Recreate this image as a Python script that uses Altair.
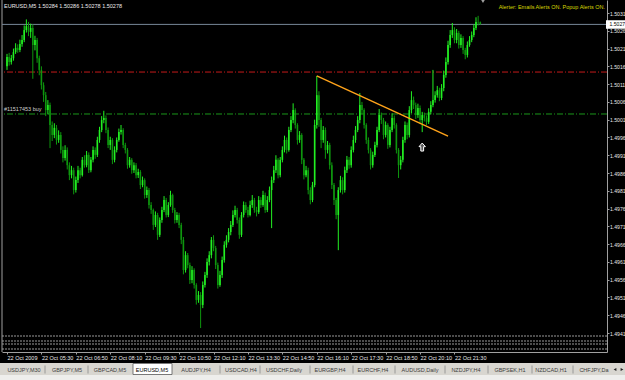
import json
import numpy as np
import pandas as pd
import altair as alt

# ---------------- data ----------------
symbol = "EURUSD,M5"
first_open = 1.50160
close = [
1.50186,1.50172,1.50183,1.50200,1.50212,1.50206,1.50223,1.50234,1.50262,1.50273,
1.50257,1.50268,1.50220,1.50234,1.50183,1.50150,1.50107,1.50079,1.50037,1.50051,
1.49995,1.49967,1.49987,1.49953,1.49967,1.49925,1.49902,1.49925,1.49882,1.49854,
1.49868,1.49812,1.49840,1.49868,1.49854,1.49897,1.49882,1.49911,1.49868,1.49897,
1.49925,1.49911,1.49953,1.49981,1.50009,1.50015,1.49981,1.49939,1.49953,1.49897,
1.49925,1.49953,1.49975,1.49981,1.49939,1.49925,1.49882,1.49897,1.49868,1.49882,
1.49854,1.49863,1.49826,1.49840,1.49798,1.49812,1.49770,1.49756,1.49714,1.49742,
1.49686,1.49728,1.49756,1.49784,1.49742,1.49770,1.49798,1.49756,1.49728,1.49742,
1.49714,1.49672,1.49587,1.49629,1.49601,1.49559,1.49587,1.49545,1.49503,1.49517,
1.49489,1.49545,1.49573,1.49610,1.49629,1.49672,1.49649,1.49601,1.49545,1.49573,
1.49615,1.49658,1.49672,1.49694,1.49714,1.49742,1.49756,1.49728,1.49686,1.49742,
1.49770,1.49756,1.49742,1.49770,1.49784,1.49756,1.49750,1.49784,1.49770,1.49798,
1.49756,1.49784,1.49812,1.49840,1.49868,1.49897,1.49854,1.49897,1.49925,1.49953,
1.49925,1.49981,1.50009,1.50037,1.49995,1.49953,1.49967,1.49897,1.49854,1.49868,
1.49812,1.49784,1.49826,1.49995,1.50079,1.50009,1.49953,1.49981,1.49925,1.49939,
1.49882,1.49826,1.49784,1.49742,1.49812,1.49840,1.49812,1.49868,1.49897,1.49882,
1.49925,1.49953,1.49981,1.50009,1.50051,1.50037,1.49995,1.49953,1.49925,1.49882,
1.49911,1.49939,1.49981,1.50023,1.50009,1.49967,1.49995,1.49939,1.49981,1.50015,
1.49995,1.49925,1.49882,1.49897,1.49953,1.49995,1.49967,1.50037,1.50065,1.50051,
1.50023,1.50043,1.50009,1.50023,1.50015,1.50004,1.50032,1.50051,1.50065,1.50079,
1.50093,1.50071,1.50099,1.50136,1.50172,1.50220,1.50248,1.50262,1.50234,1.50254,
1.50220,1.50240,1.50206,1.50192,1.50220,1.50234,1.50248,1.50268,1.50285,1.50284,
1.50278]
high = [
1.50195,1.50198,1.50192,1.50210,1.50225,1.50222,1.50235,1.50248,1.50275,1.50292,
1.50285,1.50280,1.50278,1.50246,1.50240,1.50190,1.50160,1.50115,1.50088,1.50065,
1.50058,1.50005,1.50000,1.49995,1.49980,1.49975,1.49935,1.49938,1.49932,1.49890,
1.49880,1.49875,1.49850,1.49880,1.49875,1.49905,1.49910,1.49922,1.49918,1.49905,
1.49935,1.49932,1.49962,1.49990,1.50020,1.50035,1.50022,1.49988,1.49962,1.49958,
1.49935,1.49960,1.49985,1.49995,1.49986,1.49945,1.49930,1.49905,1.49902,1.49890,
1.49888,1.49872,1.49868,1.49850,1.49845,1.49822,1.49818,1.49778,1.49760,1.49752,
1.49748,1.49735,1.49765,1.49795,1.49790,1.49778,1.49810,1.49802,1.49762,1.49750,
1.49748,1.49720,1.49680,1.49640,1.49635,1.49608,1.49598,1.49592,1.49550,1.49528,
1.49525,1.49555,1.49582,1.49620,1.49640,1.49680,1.49685,1.49655,1.49608,1.49585,
1.49625,1.49668,1.49685,1.49705,1.49725,1.49755,1.49768,1.49762,1.49735,1.49750,
1.49780,1.49778,1.49765,1.49782,1.49798,1.49790,1.49765,1.49795,1.49792,1.49810,
1.49805,1.49795,1.49822,1.49850,1.49880,1.49910,1.49902,1.49905,1.49935,1.49965,
1.49960,1.49990,1.50020,1.50056,1.50042,1.50000,1.49978,1.49972,1.49902,1.49880,
1.49875,1.49820,1.49835,1.50010,1.50133,1.50090,1.50015,1.49992,1.49988,1.49950,
1.49945,1.49890,1.49832,1.49790,1.49820,1.49852,1.49848,1.49878,1.49908,1.49905,
1.49935,1.49965,1.49992,1.50020,1.50085,1.50060,1.50042,1.50000,1.49960,1.49930,
1.49920,1.49948,1.49990,1.50040,1.50030,1.50015,1.50005,1.50000,1.49990,1.50028,
1.50022,1.50000,1.49930,1.49908,1.49962,1.50005,1.50002,1.50048,1.50090,1.50075,
1.50058,1.50055,1.50050,1.50032,1.50030,1.50022,1.50042,1.50062,1.50150,1.50090,
1.50105,1.50100,1.50110,1.50148,1.50185,1.50232,1.50262,1.50282,1.50270,1.50265,
1.50260,1.50250,1.50245,1.50212,1.50230,1.50245,1.50258,1.50278,1.50298,1.50302,
1.50286]
low = [
1.50150,1.50162,1.50165,1.50176,1.50195,1.50198,1.50200,1.50215,1.50228,1.50255,
1.50245,1.50240,1.50125,1.50205,1.50170,1.50135,1.50095,1.50060,1.50020,1.50025,
1.49930,1.49950,1.49958,1.49940,1.49945,1.49915,1.49890,1.49895,1.49870,1.49840,
1.49845,1.49800,1.49805,1.49832,1.49845,1.49850,1.49875,1.49876,1.49860,1.49862,
1.49890,1.49900,1.49905,1.49945,1.49975,1.50000,1.49972,1.49930,1.49925,1.49885,
1.49890,1.49918,1.49948,1.49968,1.49930,1.49915,1.49872,1.49875,1.49858,1.49860,
1.49845,1.49846,1.49815,1.49820,1.49788,1.49790,1.49760,1.49745,1.49700,1.49708,
1.49672,1.49680,1.49720,1.49750,1.49735,1.49736,1.49765,1.49748,1.49718,1.49720,
1.49705,1.49660,1.49575,1.49580,1.49592,1.49548,1.49550,1.49535,1.49490,1.49495,
1.49424,1.49480,1.49538,1.49565,1.49600,1.49620,1.49640,1.49590,1.49535,1.49540,
1.49565,1.49608,1.49650,1.49665,1.49685,1.49708,1.49735,1.49718,1.49675,1.49680,
1.49735,1.49748,1.49735,1.49738,1.49762,1.49748,1.49738,1.49745,1.49762,1.49765,
1.49748,1.49750,1.49778,1.49705,1.49832,1.49860,1.49845,1.49848,1.49890,1.49918,
1.49915,1.49920,1.49975,1.50000,1.49985,1.49940,1.49945,1.49885,1.49842,1.49848,
1.49800,1.49772,1.49778,1.49820,1.49985,1.49990,1.49930,1.49945,1.49900,1.49915,
1.49870,1.49815,1.49770,1.49730,1.49643,1.49805,1.49800,1.49805,1.49860,1.49872,
1.49875,1.49918,1.49945,1.49975,1.50000,1.50025,1.49985,1.49942,1.49915,1.49870,
1.49875,1.49905,1.49932,1.49975,1.49998,1.49955,1.49960,1.49928,1.49932,1.49975,
1.49985,1.49915,1.49846,1.49870,1.49890,1.49945,1.49955,1.49960,1.50028,1.50040,
1.50012,1.50015,1.49998,1.49975,1.50005,1.49995,1.49998,1.50025,1.50045,1.50058,
1.50072,1.50062,1.50065,1.50090,1.50128,1.50165,1.50212,1.50240,1.50225,1.50225,
1.50210,1.50212,1.50195,1.50180,1.50185,1.50215,1.50228,1.50242,1.50262,1.50275,
1.50278]

time_tick_bars = [0, 16, 32, 48, 64, 80, 96, 112, 128, 144, 160, 176, 192, 208]
time_labels = ["22 Oct 2009", "22 Oct 05:30", "22 Oct 06:50", "22 Oct 08:10",
               "22 Oct 09:30", "22 Oct 10:50", "22 Oct 12:10", "22 Oct 13:30",
               "22 Oct 14:50", "22 Oct 16:10", "22 Oct 17:30", "22 Oct 18:50",
               "22 Oct 20:10", "22 Oct 21:30"]
price_ticks = [1.4941, 1.4946, 1.4951, 1.4956, 1.4961, 1.4966, 1.4971, 1.4976,
               1.4981, 1.4986, 1.4991, 1.4996, 1.5001, 1.5006, 1.5011, 1.5016,
               1.5021, 1.5026, 1.5031]

bid_price = 1.50278
bid_label = "1.5027"
red_level = 1.50144
order_level = 1.50026
order_label = "#11517453 buy"
trend_bars = [144, 205]
trend_prices = [1.50133, 1.49964]
arrow_bar = 193
arrow_price = 1.49933
alert_text = "Alerter:  Emails Alerts ON.  Popup Alerts ON."

tabs = ["USDJPY,M30", "GBPJPY,M5", "GBPCAD,M5", "EURUSD,M5", "AUDJPY,H4",
        "USDCAD,H4", "USDCHF,Daily", "EURGBP,H4", "EURCHF,H4", "AUDUSD,Daily",
        "NZDJPY,H4", "GBPSEK,H1", "NZDCAD,H1", "CHFJPY,Da"]
active_tab = "EURUSD,M5"

# ---------------- layout / style ----------------
W, H = 605, 352
BAR_PX = 2.1875
FONT = "Liberation Sans"
FS = 5.5
AXFS = 5.1
UP_COL, DOWN_COL = "#22f022", "#0e960e"

opens = [first_open] + close[:-1]
df = pd.DataFrame({"i": list(range(len(close))), "open": opens, "close": close,
                   "high": high, "low": low})
df["high"] = df[["high", "open", "close"]].max(axis=1)
df["low"] = df[["low", "open", "close"]].min(axis=1)
df["dir"] = np.where(df["close"] >= df["open"], "up", "down")

xscale = alt.Scale(domain=[0, W / BAR_PX], nice=False, zero=False)
yscale = alt.Scale(domain=[1.493566, 1.503466], nice=False, zero=False)

xaxis = alt.Axis(values=time_tick_bars,
                 labelExpr=f"{json.dumps(time_labels)}[round(datum.value / 16)]",
                 labelAlign="left", labelBaseline="top", labelPadding=1,
                 labelFont=FONT, labelFontSize=FS, labelColor="#e8e8e8",
                 tickColor="#a0a0a0", tickSize=2, domainColor="#a0a0a0",
                 labelOverlap=False, labelFlush=False, grid=False, title=None)
yaxis = alt.Axis(orient="right", values=price_ticks, format=".4f",
                 labelPadding=0.5, labelFont=FONT, labelFontSize=AXFS,
                 labelColor="#e8e8e8", tickColor="#a0a0a0", tickSize=2,
                 domainColor="#a0a0a0", labelOverlap=False, labelFlush=False,
                 grid=False, title=None)


def X(field="i"):
    return alt.X(f"{field}:Q", scale=xscale, axis=xaxis, title=None)


def Y(field):
    return alt.Y(f"{field}:Q", scale=yscale, axis=yaxis, title=None)


color = alt.Color("dir:N", scale=alt.Scale(domain=["up", "down"],
                                           range=[UP_COL, DOWN_COL]), legend=None)

layers = []

# sub-window separator lines at the bottom of the chart
for yy in [336, 341, 344, 349]:
    layers.append(alt.Chart(pd.DataFrame({"k": [0]})).mark_rule(
        color="#9a9a9a", strokeWidth=1, strokeDash=[2, 1]).encode(
        x=alt.value(0), x2=alt.value(W), y=alt.value(yy)))

# left frame line
layers.append(alt.Chart(pd.DataFrame({"k": [0]})).mark_rule(
    color="#a0a0a0", strokeWidth=1).encode(x=alt.value(0), y=alt.value(0), y2=alt.value(H)))

bid_df = pd.DataFrame({"p": [bid_price], "t": [bid_label]})
layers.append(alt.Chart(bid_df).mark_rule(color="#778899", strokeWidth=1).encode(y=Y("p")))
layers.append(alt.Chart(pd.DataFrame({"p": [red_level]})).mark_rule(
    color="#c41a1a", strokeWidth=1, strokeDash=[6, 2, 1, 2]).encode(y=Y("p")))
order_df = pd.DataFrame({"p": [order_level], "t": [order_label]})
layers.append(alt.Chart(order_df).mark_rule(
    color="#1a961a", strokeWidth=1, strokeDash=[6, 2, 1, 2]).encode(y=Y("p")))

# candles
layers.append(alt.Chart(df).mark_rule(strokeWidth=1).encode(
    x=X(), y=Y("low"), y2="high", color=color))
layers.append(alt.Chart(df).mark_bar(size=1.6).encode(
    x=X(), y=Y("open"), y2="close", color=color))

# trendline
layers.append(alt.Chart(pd.DataFrame({"i": trend_bars, "p": trend_prices})).mark_line(
    color="#ffa31a", strokeWidth=1.4).encode(x=X(), y=Y("p")))

# buy arrow
arrow_path = "M0,-1 L0.8,-0.1 L0.35,-0.1 L0.35,1 L-0.35,1 L-0.35,-0.1 L-0.8,-0.1 Z"
layers.append(alt.Chart(pd.DataFrame({"i": [arrow_bar], "p": [arrow_price]})).mark_point(
    shape=arrow_path, size=64, fill="#5a5a5a", fillOpacity=1, stroke="#ffffff",
    strokeWidth=1, opacity=1).encode(x=X(), y=Y("p")))

# order label
layers.append(alt.Chart(order_df).mark_text(
    align="left", baseline="middle", dy=-4.5, font=FONT, fontSize=FS,
    color="#cfcfcf").encode(x=alt.value(2), y=Y("p"), text="t:N"))

# bid price box on the axis
box_path = "M-1,-0.36 L1,-0.36 L1,0.36 L-1,0.36 Z"
layers.append(alt.Chart(bid_df).mark_point(
    shape=box_path, size=324, fill="#ffffff", fillOpacity=1, stroke="#ffffff",
    opacity=1).encode(x=alt.value(614), y=Y("p")))
layers.append(alt.Chart(bid_df).mark_text(
    align="left", baseline="middle", font=FONT, fontSize=AXFS, color="#000000").encode(
    x=alt.value(607.5), y=Y("p"), text="t:N"))

# title and alerter text
title_txt = f"{symbol}  {df['open'].iloc[-1]:.5f} {df['high'].iloc[-1]:.5f} {df['low'].iloc[-1]:.5f} {df['close'].iloc[-1]:.5f}"
layers.append(alt.Chart(pd.DataFrame({"t": [title_txt]})).mark_text(
    align="left", baseline="middle", font=FONT, fontSize=FS, color="#ececec").encode(
    x=alt.value(2), y=alt.value(6), text="t:N"))
layers.append(alt.Chart(pd.DataFrame({"t": [alert_text]})).mark_text(
    align="right", baseline="middle", font=FONT, fontSize=FS, color="#d8d800").encode(
    x=alt.value(603), y=alt.value(7), text="t:N"))

# chart shift marker
layers.append(alt.Chart(pd.DataFrame({"k": [0]})).mark_point(
    shape="triangle-down", size=14, filled=True, color="#a0a0a0", opacity=1).encode(
    x=alt.value(481), y=alt.value(1.5)))

# tab bar
layers.append(alt.Chart(pd.DataFrame({"k": [0]})).mark_rect(color="#d8d6d0").encode(
    x=alt.value(-2), x2=alt.value(623), y=alt.value(363), y2=alt.value(375)))
layers.append(alt.Chart(pd.DataFrame({"k": [0]})).mark_rect(color="#eeeeec").encode(
    x=alt.value(-2), x2=alt.value(623), y=alt.value(375), y2=alt.value(380)))
layers.append(alt.Chart(pd.DataFrame({"k": [0]})).mark_rect(
    color="#ffffff", stroke="#5a5a5a", strokeWidth=0.8).encode(
    x=alt.value(131), x2=alt.value(170), y=alt.value(363.5), y2=alt.value(374.5)))

tab_centers = [22, 65, 108, 150, 194, 239, 282, 328, 371, 418, 464, 508, 549, 592]
tab_df = pd.DataFrame({"t": tabs, "x": tab_centers})
tab_df["active"] = tab_df["t"] == active_tab
layers.append(alt.Chart(tab_df).mark_text(
    align="center", baseline="middle", font=FONT, fontSize=FS).encode(
    x=alt.X("x:Q", scale=None, axis=None), y=alt.value(369.5), text="t:N",
    color=alt.condition("datum.active", alt.value("#000000"), alt.value("#3c3c3c"))))
sep_df = pd.DataFrame({"x": [43, 86, 218, 258, 308, 351, 393, 443, 486, 530, 571]})
layers.append(alt.Chart(sep_df).mark_rule(color="#8a8a8a", strokeWidth=0.8).encode(
    x=alt.X("x:Q", scale=None, axis=None), y=alt.value(365.5), y2=alt.value(373.5)))
layers.append(alt.Chart(pd.DataFrame({"s": ["triangle-left", "triangle-right"],
                                      "x": [613, 620]})).mark_point(
    size=10, filled=True, color="#202020", opacity=1).encode(
    x=alt.X("x:Q", scale=None, axis=None), y=alt.value(369.5),
    shape=alt.Shape("s:N", scale=None, legend=None)))

chart = alt.layer(*layers).properties(
    width=W, height=H,
    padding={"left": 2, "top": 0, "right": 18, "bottom": 28},
    autosize=alt.AutoSizeParams(type="none"),
).configure(background="#000000").configure_view(strokeWidth=0)

chart.save("out.html", embed_options={"renderer": "svg", "actions": False})
